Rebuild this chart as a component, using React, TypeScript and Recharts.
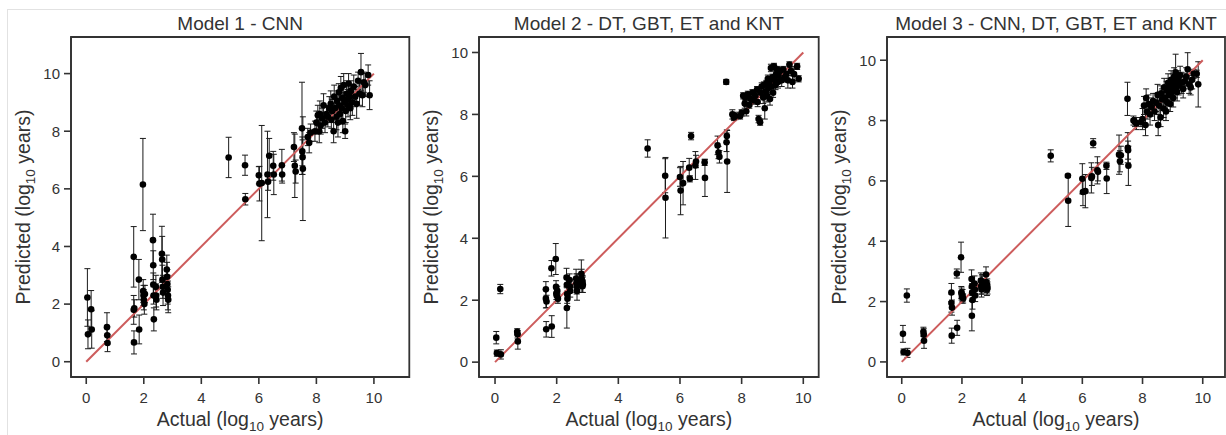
import React from "react";
import { ScatterChart, Scatter, XAxis, YAxis, ErrorBar, ReferenceLine, ReferenceArea } from "recharts";

// actual ages (log10 years) of the test set, shared by all three models
const actual = [
  0.04, 0.06, 0.17, 0.19, 0.72, 0.73, 0.74, 1.65, 1.65, 1.66, 1.67, 1.83, 1.84, 1.97, 1.98, 1.99, 2.0, 2.02, 2.04,
  2.32, 2.33, 2.33, 2.34, 2.35, 2.42, 2.43, 2.44, 2.63, 2.64, 2.65, 2.66, 2.67, 2.8, 2.81, 2.82, 2.83, 2.84, 2.85,
  4.95, 5.52, 5.53, 6.0, 6.02, 6.1, 6.3, 6.36, 6.32, 6.5, 6.52, 6.8, 6.81, 7.22, 7.25, 7.28, 7.5, 7.51, 7.52, 7.53,
  7.7, 7.75, 7.8,
  7.95, 8.0, 8.05, 8.1, 8.12, 8.15, 8.2, 8.25, 8.3, 8.35, 8.4, 8.45, 8.5, 8.52, 8.55, 8.6, 8.62, 8.65, 8.7, 8.72,
  8.75, 8.78, 8.8, 8.82, 8.85, 8.88, 8.9, 8.92, 8.95, 8.98, 9.0, 9.02, 9.05, 9.08, 9.1, 9.12, 9.15, 9.18, 9.2, 9.25,
  9.3, 9.35, 9.4, 9.45, 9.5, 9.55, 9.6, 9.65, 9.7, 9.8, 9.85,
];

const cnnPred = [
  2.23, 0.95, 1.82, 1.12, 1.2, 0.92, 0.65, 3.64, 1.8, 0.67, 1.85, 2.85, 1.12, 6.15, 2.45, 2.3, 2.15, 2.0, 2.35,
  4.22, 3.35, 2.68, 2.3, 1.47, 2.6, 2.3, 2.15, 3.75, 3.55, 2.85, 2.6, 2.4, 3.2, 2.95, 2.7, 2.5, 2.3, 2.15,
  7.09, 6.82, 5.64, 6.47, 6.18, 6.2, 6.5, 7.15, 6.25, 6.8, 6.5, 6.82, 6.5, 7.45, 6.8, 6.6, 8.1, 7.3, 7.1, 6.7,
  7.8, 7.6, 7.95,
  8.0, 8.3, 8.55, 8.0, 8.6, 8.2, 8.45, 8.9, 8.3, 8.6, 8.5, 8.8, 8.95, 8.4, 8.7, 8.0, 9.2, 8.8, 8.5, 9.05,
  8.3, 9.35, 8.9, 8.6, 9.5, 8.8, 9.15, 8.35, 9.6, 9.0, 8.0, 8.7, 9.3, 9.1, 8.9, 9.65, 9.2, 8.8, 9.4, 9.0,
  9.55, 9.2, 8.95, 9.75, 9.3, 10.05, 9.25, 9.7, 9.6, 9.95, 9.25,
];
const cnnErr = [
  1.0, 0.5, 0.65, 0.65, 0.5, 0.3, 0.3, 1.05, 0.5, 0.4, 0.3, 0.7, 0.5, 1.6, 0.4, 0.35, 0.35, 0.35, 0.3,
  0.9, 0.5, 0.4, 0.3, 0.4, 0.4, 0.4, 0.35, 0.95, 0.8, 0.5, 0.4, 0.45, 0.5, 0.5, 0.5, 0.5, 0.5, 0.45,
  0.7, 0.35, 0.2, 0.3, 0.6, 2.0, 1.5, 0.6, 0.3, 0.5, 0.7, 0.55, 0.3, 0.5, 1.1, 0.4, 1.6, 0.5, 0.6, 1.8,
  0.3, 0.35, 0.3,
  0.35, 0.4, 0.35, 0.4, 0.45, 0.3, 0.35, 0.4, 0.35, 0.3, 0.35, 0.4, 0.45, 0.3, 0.4, 0.4, 0.4, 0.35, 0.45, 0.35,
  0.5, 0.3, 0.4, 0.35, 0.4, 0.45, 0.35, 0.4, 0.4, 0.35, 0.25, 0.4, 0.45, 0.35, 0.4, 0.35, 0.3, 0.4, 0.35, 0.45,
  0.4, 0.35, 0.5, 0.3, 0.4, 0.65, 0.4, 0.35, 0.4, 0.35, 0.5,
];

const treePred = [
  0.79, 0.29, 2.36, 0.25, 0.98, 0.9, 0.67, 2.35, 2.05, 1.06, 1.96, 3.03, 1.15, 3.33, 2.43, 2.22, 2.15, 2.3, 2.05,
  2.73, 2.5, 1.75, 2.2, 2.05, 2.65, 2.45, 2.3, 2.7, 2.55, 2.45, 2.3, 2.6, 2.85, 2.7, 2.55, 2.45, 2.6, 2.5,
  6.9, 6.02, 5.31, 5.98, 5.54, 5.78, 6.28, 7.3, 5.92, 6.35, 6.48, 6.45, 5.95, 7.0, 6.77, 6.63, 9.05, 7.1, 7.3, 6.48,
  8.0, 7.9, 7.95,
  7.95, 8.05, 8.6, 8.35, 8.55, 8.1, 8.65, 8.3, 8.5, 8.7, 8.45, 8.6, 8.8, 8.4, 7.85, 7.75, 8.7, 8.9, 8.55, 8.95,
  8.2, 8.75, 9.0, 8.6, 9.15, 8.85, 9.05, 8.5, 9.5, 8.9, 9.2, 8.7, 9.55, 9.1, 8.95, 9.3, 9.45, 9.05, 9.25, 9.4,
  9.1, 9.45, 9.2, 9.3, 9.1, 9.6, 9.4, 9.05, 9.3, 9.55, 9.15,
];
const treeErr = [
  0.2, 0.1, 0.15, 0.15, 0.1, 0.12, 0.25, 0.25, 0.3, 0.25, 0.2, 0.25, 0.35, 0.5, 0.2, 0.2, 0.2, 0.15, 0.15,
  0.3, 0.3, 0.65, 0.3, 0.25, 0.2, 0.2, 0.2, 0.3, 0.3, 0.25, 0.3, 0.25, 0.45, 0.3, 0.3, 0.2, 0.2, 0.25,
  0.28, 0.55, 1.3, 0.3, 0.78, 0.7, 0.3, 0.12, 0.1, 0.45, 0.2, 0.1, 0.6, 0.3, 0.2, 0.2, 0.08, 0.3, 0.2, 1.0,
  0.15, 0.1, 0.12,
  0.1, 0.1, 0.1, 0.15, 0.1, 0.15, 0.1, 0.1, 0.15, 0.1, 0.12, 0.15, 0.1, 0.15, 0.12, 0.1, 0.15, 0.12, 0.2, 0.1,
  0.35, 0.15, 0.1, 0.2, 0.12, 0.15, 0.1, 0.2, 0.12, 0.15, 0.1, 0.15, 0.1, 0.15, 0.15, 0.12, 0.1, 0.2, 0.15, 0.12,
  0.2, 0.1, 0.15, 0.1, 0.25, 0.1, 0.15, 0.2, 0.2, 0.1, 0.1,
];

const ensPred = [
  0.93, 0.33, 2.2, 0.3, 1.0, 0.9, 0.7, 2.3, 1.95, 0.87, 1.8, 2.93, 1.13, 3.47, 2.3, 2.25, 2.15, 2.2, 2.1,
  2.75, 2.5, 1.53, 2.3, 2.05, 2.6, 2.4, 2.2, 2.7, 2.5, 2.4, 2.55, 2.65, 2.9, 2.65, 2.5, 2.4, 2.55, 2.45,
  6.83, 6.17, 5.34, 6.07, 5.63, 5.66, 6.1, 7.25, 6.15, 6.35, 6.3, 6.5, 6.08, 6.87, 6.65, 6.85, 8.72, 7.1, 7.02, 6.5,
  8.0, 7.95, 7.9,
  7.95, 8.05, 8.5, 7.85, 8.75, 8.3, 8.55, 8.2, 8.45, 8.65, 8.3, 8.6, 8.85, 7.85, 8.5, 8.1, 8.9, 8.7, 8.4, 9.1,
  8.75, 8.3, 9.0, 8.6, 9.25, 8.85, 9.1, 8.55, 9.35, 8.95, 9.2, 8.75, 9.45, 9.1, 9.6, 9.3, 8.95, 9.4, 9.15, 9.5,
  9.25, 9.05, 9.3, 9.45, 9.7, 9.2, 9.1, 9.35, 9.55, 9.55, 9.2,
];
const ensErr = [
  0.28, 0.1, 0.22, 0.15, 0.15, 0.2, 0.25, 0.3, 0.3, 0.25, 0.25, 0.15, 0.25, 0.5, 0.2, 0.2, 0.2, 0.2, 0.15,
  0.3, 0.3, 0.5, 0.3, 0.3, 0.25, 0.2, 0.2, 0.25, 0.25, 0.25, 0.3, 0.25, 0.25, 0.25, 0.2, 0.2, 0.2, 0.2,
  0.2, 0.05, 0.85, 0.5, 0.45, 0.55, 0.5, 0.15, 0.3, 0.45, 0.3, 0.12, 0.5, 0.65, 0.35, 0.3, 0.55, 0.5, 0.3, 0.65,
  0.15, 0.15, 0.2,
  0.15, 0.35, 0.3, 0.35, 0.3, 0.25, 0.3, 0.35, 0.3, 0.25, 0.3, 0.3, 0.35, 0.35, 0.3, 0.3, 0.25, 0.35, 0.3, 0.3,
  0.35, 0.3, 0.3, 0.25, 0.3, 0.35, 0.3, 0.25, 0.3, 0.3, 0.35, 0.3, 0.3, 0.35, 0.6, 0.3, 0.3, 0.25, 0.3, 0.3,
  0.35, 0.3, 0.25, 0.3, 0.55, 0.3, 0.25, 0.3, 0.15, 0.12, 0.75,
];

const ticks = [0, 2, 4, 6, 8, 10];
const diagonal = [0, 10];
const titles = ["Model 1 - CNN", "Model 2 - DT, GBT, ET and KNT", "Model 3 - CNN, DT, GBT, ET and KNT"];

const TEXT = "#333";
const FONT = "'Liberation Sans', Arial, sans-serif";

const Title = ({ viewBox, text }: any) => (
  <text x={viewBox.x + viewBox.width / 2} y={viewBox.y - 7.5} textAnchor="middle" fill={TEXT} fontSize={19}>
    {text}
  </text>
);

const XLabel = ({ viewBox }: any) => (
  <text x={viewBox.x + viewBox.width / 2} y={viewBox.y + 49} textAnchor="middle" fill={TEXT} fontSize={19.5}>
    Actual (log
    <tspan fontSize={13.5} dy={5}>10</tspan>
    <tspan dy={-5}> years)</tspan>
  </text>
);

const YLabel = ({ viewBox }: any) => {
  const cx = viewBox.x + viewBox.width - 41;
  const cy = viewBox.y + viewBox.height / 2;
  return (
    <text x={cx} y={cy} transform={`rotate(-90, ${cx}, ${cy})`} textAnchor="middle" fill={TEXT} fontSize={19.5}>
      Predicted (log
      <tspan fontSize={13.5} dy={5}>10</tspan>
      <tspan dy={-5}> years)</tspan>
    </text>
  );
};

const Dot = (p: any) => <circle cx={p.cx} cy={p.cy} r={3.3} fill="#000" />;

type PanelProps = {
  title: string;
  pred: number[];
  err: number[];
  left: number;
  width: number;
  yAxisWidth: number;
  right: number;
  domain: [number, number];
  yDomain: [number, number];
};

const Panel = ({ title, pred, err, left, width, yAxisWidth, right, domain, yDomain }: PanelProps) => {
  const data = actual.map((x, i) => ({ x, y: pred[i], err: err[i] }));
  return (
    <div style={{ position: "absolute", left, top: 0 }}>
      <ScatterChart width={width} height={435} margin={{ top: 37, right, bottom: 0, left: 0 }}>
        <XAxis
          type="number"
          dataKey="x"
          domain={domain}
          ticks={ticks}
          interval={0}
          allowDataOverflow
          height={58}
          tickSize={7}
          tickMargin={8}
          stroke="#333"
          strokeWidth={1.6}
          tick={{ fill: TEXT, fontSize: 15 }}
          label={<XLabel />}
        />
        <YAxis
          type="number"
          dataKey="y"
          domain={yDomain}
          ticks={ticks}
          interval={0}
          allowDataOverflow
          width={yAxisWidth}
          tickSize={7}
          tickMargin={4}
          stroke="#333"
          strokeWidth={1.6}
          tick={{ fill: TEXT, fontSize: 15 }}
          label={<YLabel />}
        />
        <Scatter data={data} dataKey="y" shape={Dot} isAnimationActive={false}>
          <ErrorBar dataKey="err" direction="y" width={3} stroke="#1a1a1a" strokeWidth={1} isAnimationActive={false} />
        </Scatter>
        <ReferenceLine
          segment={[
            { x: diagonal[0], y: diagonal[0] },
            { x: diagonal[1], y: diagonal[1] },
          ]}
          stroke="#cd5c5c"
          strokeWidth={2}
        />
        <ReferenceArea
          x1={domain[0]}
          x2={domain[1]}
          y1={yDomain[0]}
          y2={yDomain[1]}
          fill="none"
          stroke="#333"
          strokeWidth={1.8}
          label={<Title text={title} />}
        />
      </ScatterChart>
    </div>
  );
};

export default function App() {
  return (
    <div
      style={{ position: "fixed", left: 0, top: 0, width: 1226, height: 435, background: "#fff", fontFamily: FONT }}
    >
      <div
        style={{
          position: "absolute",
          left: 7,
          top: 9,
          right: 0,
          bottom: 0,
          borderTop: "1px solid #e2e2e2",
          borderLeft: "1px solid #e2e2e2",
        }}
      />
      <Panel title={titles[0]} pred={cnnPred} err={cnnErr} left={0} width={420} yAxisWidth={71} right={10.7}
        domain={[-0.53, 11.23]} yDomain={[-0.53, 11.27]} />
      <Panel title={titles[1]} pred={treePred} err={treeErr} left={412} width={418} yAxisWidth={67} right={11.3}
        domain={[-0.52, 10.5]} yDomain={[-0.48, 10.5]} />
      <Panel title={titles[2]} pred={ensPred} err={ensErr} left={820} width={406} yAxisWidth={67} right={1}
        domain={[-0.49, 10.74]} yDomain={[-0.5, 10.77]} />
    </div>
  );
}
